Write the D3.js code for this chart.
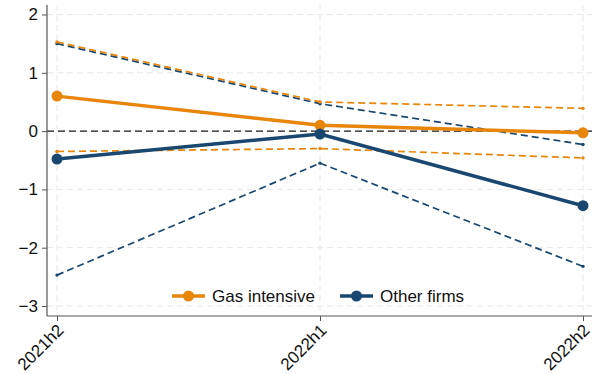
<!DOCTYPE html>
<html>
<head>
<meta charset="utf-8">
<script src="https://cdn.jsdelivr.net/npm/d3@7"></script>
<style>
  html, body { margin: 0; padding: 0; background: #fff; }
  svg { display: block; font-family: "Liberation Sans", Arial, sans-serif; }
</style>
</head>
<body>
<svg id="chart" width="598" height="374"></svg>
<script>
// Periods on the x axis
const periods = ["2021h2", "2022h1", "2022h2"];
// Y tick values
const yTicks = [-3, -2, -1, 0, 1, 2];

// Point estimates and confidence bounds per group
const gasEstimate = [0.60, 0.10, -0.03];
const gasUpper = [1.53, 0.50, 0.39];
const gasLower = [-0.35, -0.30, -0.46];

const otherEstimate = [-0.48, -0.05, -1.28];
const otherUpper = [1.50, 0.47, -0.23];
const otherLower = [-2.47, -0.55, -2.32];

const groups = ["Gas intensive", "Other firms"];
const colors = ["#e8850b", "#1a476f"];

const svg = d3.select("#chart");
const plotLeft = 47, plotRight = 592, plotTop = 5, plotBottom = 316;
const fontSize = 17;

const x = d3.scalePoint().domain(periods).range([57, 583]);
const y = d3.scaleLinear().domain([-3, 2]).range([306, 14.5]);

// Grid lines
const grid = svg.append("g");
grid.selectAll("line.h").data(yTicks).join("line")
  .attr("class", "h")
  .attr("x1", plotLeft).attr("x2", plotRight)
  .attr("y1", d => y(d)).attr("y2", d => y(d))
  .attr("stroke", "#e8e8e8").attr("stroke-width", 1)
  .attr("stroke-dasharray", "6,4");
grid.selectAll("line.v").data(periods).join("line")
  .attr("class", "v")
  .attr("x1", d => x(d)).attr("x2", d => x(d))
  .attr("y1", plotTop).attr("y2", plotBottom)
  .attr("stroke", "#e8e8e8").attr("stroke-width", 1)
  .attr("stroke-dasharray", "6,4");

// Zero reference line
svg.append("line")
  .attr("x1", plotLeft).attr("x2", plotRight)
  .attr("y1", y(0)).attr("y2", y(0))
  .attr("stroke", "#1a1a1a").attr("stroke-width", 1.2)
  .attr("stroke-dasharray", "7,4");

// Axes
const yAxis = d3.axisLeft(y).tickValues(yTicks).tickSize(5).tickPadding(4).tickFormat(d3.format("d"));
const yg = svg.append("g").attr("transform", `translate(${plotLeft},0)`).call(yAxis);
yg.select(".domain").remove();
yg.append("line").attr("x1", 0).attr("x2", 0).attr("y1", plotTop).attr("y2", plotBottom)
  .attr("stroke", "#555").attr("stroke-width", 1.2);
yg.selectAll(".tick line").attr("stroke", "#555");
yg.selectAll(".tick text").attr("font-size", fontSize).attr("fill", "#111")
  .style("font-family", "Liberation Sans, Arial, sans-serif");

const xAxis = d3.axisBottom(x).tickSize(5).tickPadding(3);
const xg = svg.append("g").attr("transform", `translate(0,${plotBottom})`).call(xAxis);
xg.select(".domain").remove();
xg.append("line").attr("x1", plotLeft).attr("x2", plotRight).attr("y1", 0).attr("y2", 0)
  .attr("stroke", "#555").attr("stroke-width", 1.2);
xg.selectAll(".tick line").attr("stroke", "#555");
// Rotated period labels, ending just below each tick
xg.selectAll(".tick text")
  .attr("font-size", fontSize).attr("fill", "#111")
  .style("font-family", "Liberation Sans, Arial, sans-serif")
  .attr("text-anchor", "end")
  .attr("x", 0).attr("y", 0)
  .attr("dy", "0.35em")
  .attr("transform", "translate(3,11) rotate(-45)");

const line = d3.line().x((d, i) => x(periods[i])).y(d => y(d));

const series = [
  { est: gasEstimate, up: gasUpper, lo: gasLower, color: colors[0] },
  { est: otherEstimate, up: otherUpper, lo: otherLower, color: colors[1] }
];

// Confidence bounds (dashed, other group first so orange sits on top)
[series[1], series[0]].forEach(s => {
  [s.up, s.lo].forEach(b => {
    svg.append("path").datum(b).attr("d", line)
      .attr("fill", "none").attr("stroke", s.color).attr("stroke-width", 1.7)
      .attr("stroke-dasharray", "7,4");
    svg.append("g").selectAll("circle").data(b).join("circle")
      .attr("cx", (d, i) => x(periods[i])).attr("cy", d => y(d))
      .attr("r", 1.7).attr("fill", s.color);
  });
});

// Point estimates
series.forEach(s => {
  svg.append("path").datum(s.est).attr("d", line)
    .attr("fill", "none").attr("stroke", s.color).attr("stroke-width", 3.5);
  svg.append("g").selectAll("circle").data(s.est).join("circle")
    .attr("cx", (d, i) => x(periods[i])).attr("cy", d => y(d))
    .attr("r", 5.5).attr("fill", s.color);
});

// Legend
const legendY = 296;
const legendItems = [
  { label: groups[0], color: colors[0], x0: 172 },
  { label: groups[1], color: colors[1], x0: 340 }
];
legendItems.forEach(it => {
  const g = svg.append("g");
  g.append("line").attr("x1", it.x0).attr("x2", it.x0 + 33)
    .attr("y1", legendY).attr("y2", legendY)
    .attr("stroke", it.color).attr("stroke-width", 3.5);
  g.append("circle").attr("cx", it.x0 + 16.5).attr("cy", legendY).attr("r", 5.5).attr("fill", it.color);
  g.append("text").attr("x", it.x0 + 40).attr("y", legendY).attr("dy", "0.35em")
    .attr("font-size", fontSize).attr("fill", "#111").text(it.label);
});
</script>
</body>
</html>
